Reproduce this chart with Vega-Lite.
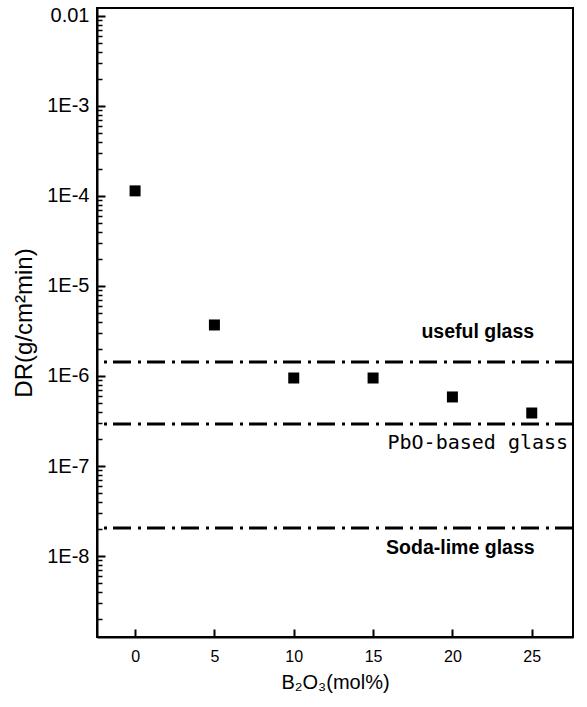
{
  "$schema": "https://vega.github.io/schema/vega-lite/v6.json",
  "width": 476,
  "height": 629,
  "autosize": {"type": "none"},
  "padding": {"left": 97, "top": 8, "right": 14, "bottom": 70},
  "background": "white",
  "datasets": {
    "points": [
      {"x": 0, "y": 1.14e-4},
      {"x": 5, "y": 3.69e-6},
      {"x": 10, "y": 9.5e-7},
      {"x": 15, "y": 9.5e-7},
      {"x": 20, "y": 5.85e-7},
      {"x": 25, "y": 3.88e-7}
    ],
    "lines": [
      {"name": "useful glass", "y": 1.43e-6},
      {"name": "PbO-based glass", "y": 2.93e-7},
      {"name": "Soda-lime glass", "y": 2.05e-8}
    ],
    "labelsBold": [
      {"x": 21.6, "y": 3.08e-6, "label": "useful glass"},
      {"x": 20.5, "y": 1.23e-8, "label": "Soda-lime glass"}
    ],
    "labelsPlain": [
      {"x": 21.6, "y": 1.8e-7, "label": "PbO-based glass"}
    ]
  },
  "config": {
    "view": {"stroke": "black", "strokeWidth": 2},
    "axis": {
      "domainColor": "black",
      "domainWidth": 2,
      "tickColor": "black",
      "grid": false,
      "labelFont": "Liberation Sans",
      "titleFont": "Liberation Sans",
      "labelColor": "black",
      "titleColor": "black",
      "titleFontWeight": "normal"
    }
  },
  "layer": [
    {
      "data": {"name": "points"},
      "mark": {"type": "square", "filled": true, "color": "black", "size": 121, "opacity": 1},
      "encoding": {
        "x": {
          "field": "x",
          "type": "quantitative",
          "scale": {"domain": [-2.4, 27.6], "nice": false, "zero": false},
          "axis": {
            "values": [0, 5, 10, 15, 20, 25],
            "tickSize": -8,
            "tickWidth": 2,
            "labelFontSize": 16,
            "labelPadding": 19,
            "title": "B₂O₃(mol%)",
            "titleFontSize": 20,
            "titlePadding": 8
          }
        },
        "y": {
          "field": "y",
          "type": "quantitative",
          "scale": {"type": "log", "domain": [1.259e-9, 0.01227], "nice": false},
          "axis": {
            "orient": "left",
            "values": [2e-9, 3e-9, 4e-9, 5e-9, 6e-9, 7e-9, 8e-9, 9e-9, 1e-8,
                       2e-8, 3e-8, 4e-8, 5e-8, 6e-8, 7e-8, 8e-8, 9e-8, 1e-7,
                       2e-7, 3e-7, 4e-7, 5e-7, 6e-7, 7e-7, 8e-7, 9e-7, 1e-6,
                       2e-6, 3e-6, 4e-6, 5e-6, 6e-6, 7e-6, 8e-6, 9e-6, 1e-5,
                       2e-5, 3e-5, 4e-5, 5e-5, 6e-5, 7e-5, 8e-5, 9e-5, 1e-4,
                       2e-4, 3e-4, 4e-4, 5e-4, 6e-4, 7e-4, 8e-4, 9e-4, 0.001,
                       0.002, 0.003, 0.004, 0.005, 0.006, 0.007, 0.008, 0.009, 0.01],
            "labelExpr": "abs(log(datum.value)/LN10 - round(log(datum.value)/LN10)) > 0.01 ? '' : (datum.value >= 0.005 ? '0.01' : '1E-' + round(-log(datum.value)/LN10))",
            "tickSize": {"condition": {"test": "abs(log(datum.value)/LN10 - round(log(datum.value)/LN10)) < 0.01", "value": -8}, "value": -5},
            "tickWidth": {"condition": {"test": "abs(log(datum.value)/LN10 - round(log(datum.value)/LN10)) < 0.01", "value": 2}, "value": 1.5},
            "labelFontSize": 20,
            "labelPadding": 16,
            "title": "DR(g/cm²min)",
            "titleFontSize": 24,
            "titlePadding": 10
          }
        }
      }
    },
    {
      "data": {"name": "lines"},
      "mark": {"type": "rule", "strokeDash": [18, 6, 3, 7], "strokeWidth": 3, "color": "black"},
      "encoding": {
        "y": {
          "field": "y",
          "type": "quantitative",
          "scale": {"type": "log", "domain": [1.259e-9, 0.01227], "nice": false}
        }
      }
    },
    {
      "data": {"name": "labelsBold"},
      "mark": {"type": "text", "font": "Liberation Sans", "fontWeight": "bold", "fontSize": 19.5, "align": "center", "baseline": "middle", "color": "black"},
      "encoding": {
        "x": {"field": "x", "type": "quantitative", "scale": {"domain": [-2.4, 27.6], "nice": false, "zero": false}},
        "y": {"field": "y", "type": "quantitative", "scale": {"type": "log", "domain": [1.259e-9, 0.01227], "nice": false}},
        "text": {"field": "label"}
      }
    },
    {
      "data": {"name": "labelsPlain"},
      "mark": {"type": "text", "font": "DejaVu Sans Mono", "fontSize": 20, "align": "center", "baseline": "middle", "color": "black"},
      "encoding": {
        "x": {"field": "x", "type": "quantitative", "scale": {"domain": [-2.4, 27.6], "nice": false, "zero": false}},
        "y": {"field": "y", "type": "quantitative", "scale": {"type": "log", "domain": [1.259e-9, 0.01227], "nice": false}},
        "text": {"field": "label"}
      }
    }
  ]
}
